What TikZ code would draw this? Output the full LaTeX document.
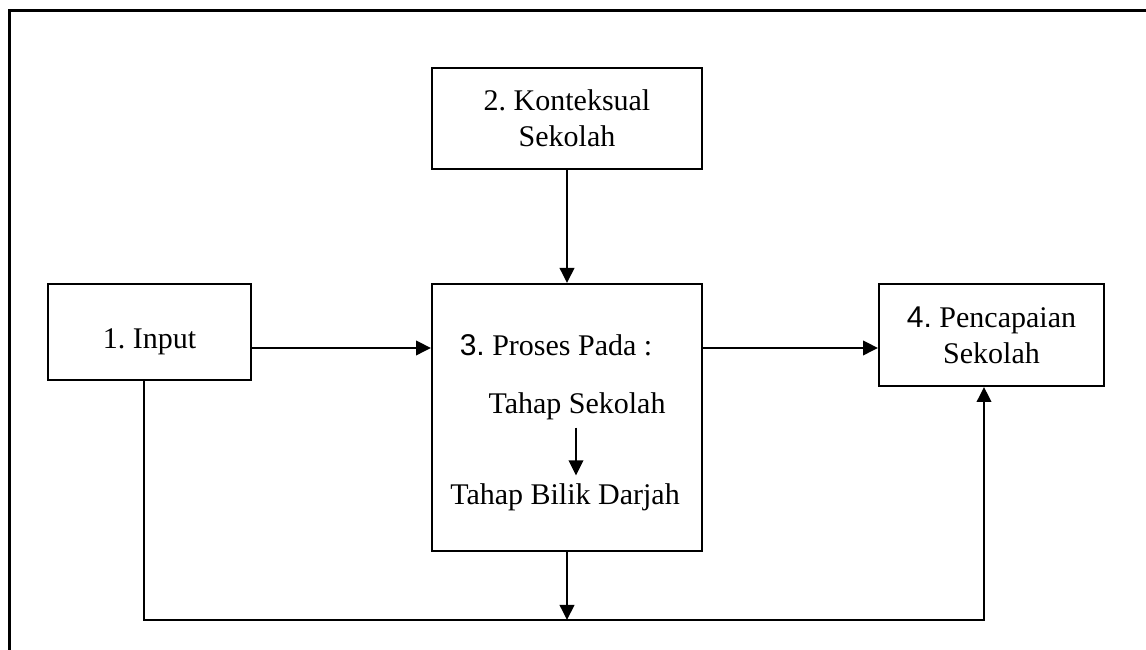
\documentclass[tikz,border=0pt]{standalone}
\usepackage{fontspec}
\setmainfont{Liberation Serif}
\newfontfamily\arialfont{Liberation Sans}
\usetikzlibrary{arrows.meta}

\tikzset{
	kotak/.style={draw, line width=0.8pt, inner sep=0pt, align=center, font=\fontsize{12}{14.5}\selectfont},
	teks/.style={inner sep=0pt, font=\fontsize{12}{14.5}\selectfont},
	panah/.style={line width=0.8pt, -{Triangle[length=6pt,width=5.8pt]}}
}

\begin{document}
\frenchspacing
\begin{tikzpicture}[x=0.4pt, y=-0.4pt]
	\useasboundingbox (0,0) rectangle (1146,650);
	\draw [line width=1.2pt] (9,650)--(9,11)--(1146,11);
	\node [kotak, minimum width=81.2pt, minimum height=38.4pt, text height=16pt] (input) at (149.5,332) {1. Input};
	\node [kotak, minimum width=108pt, minimum height=40.4pt] (konteks) at (567,118.5) {2. Konteksual\\Sekolah};
	\node [kotak, minimum width=108pt, minimum height=106.8pt] (proses) at (567,417.5) {};
	\node [kotak, minimum width=90pt, minimum height=40.8pt] (capai) at (991.5,335) {{\arialfont 4.} Pencapaian\\Sekolah};
	\node [teks] (judul) at (556,345) {{\arialfont 3.} Proses Pada :};
	\node [teks] (tsekolah) at (577,406) {Tahap Sekolah};
	\node [teks] (tbilik) at (565,497) {Tahap Bilik Darjah};
	\coordinate (bawah) at (567,620);
	\draw [panah] (konteks.south)--(proses.north);
	\draw [panah] (input.east |- 0,348)--(proses.west |- 0,348);
	\draw [panah] (proses.east |- 0,348)--(capai.west |- 0,348);
	\draw [panah, shorten <=3pt, shorten >=3pt] (tsekolah.south -| 576,0)--(tbilik.north -| 576,0);
	\draw [panah] (proses.south)--(bawah);
	\draw [panah] ([xshift=-2.2pt]input.south) |- (bawah) -| ([xshift=-3pt]capai.south);
\end{tikzpicture}
\end{document}
